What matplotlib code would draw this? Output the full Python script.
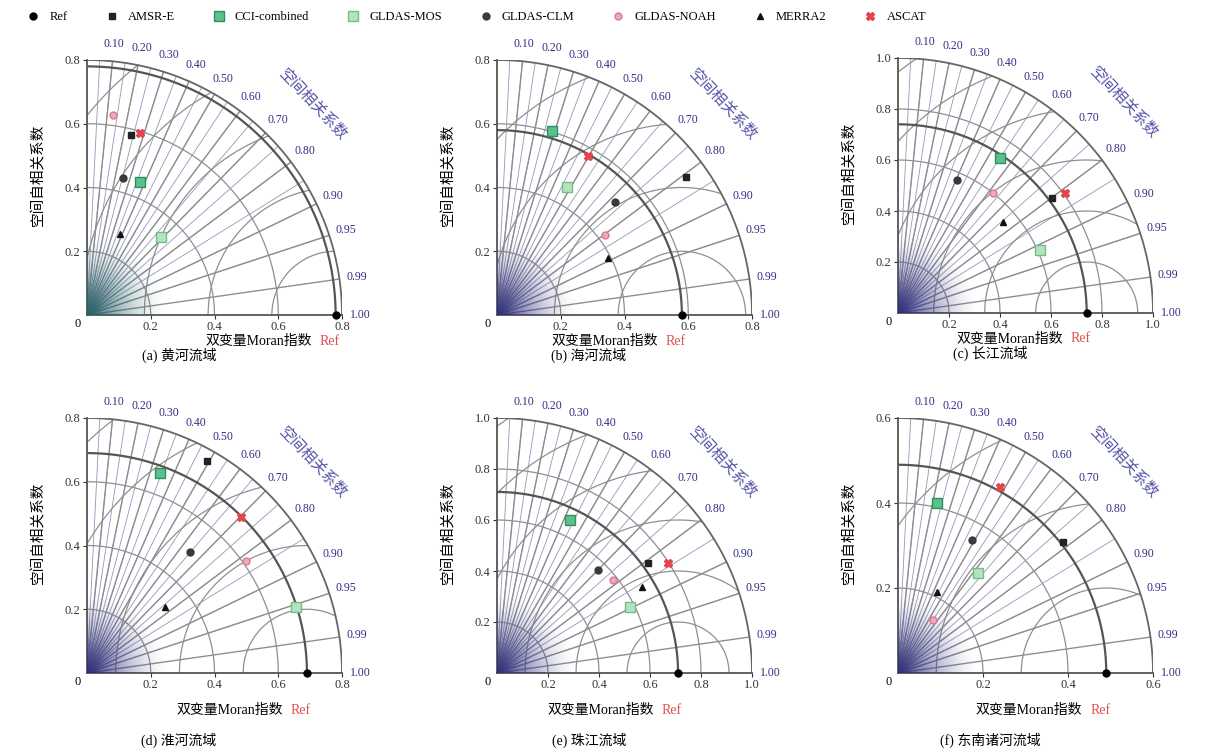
import numpy as np
import matplotlib
matplotlib.use('Agg')
import matplotlib.pyplot as plt

plt.rcParams['font.family'] = ['Liberation Serif', 'Noto Sans CJK SC']

# ---- data ----
basins = ['(a) 黄河流域', '(b) 海河流域', '(c) 长江流域',
          '(d) 淮河流域', '(e) 珠江流域', '(f) 东南诸河流域']
ref_std = [0.78, 0.58, 0.74, 0.69, 0.71, 0.49]
r_max = [0.8, 0.8, 1.0, 0.8, 1.0, 0.6]

products = ['AMSR-E', 'CCI-combined', 'GLDAS-MOS', 'GLDAS-CLM',
            'GLDAS-NOAH', 'MERRA2', 'ASCAT']
amsre_std = [0.581, 0.734, 0.754, 0.764, 0.732, 0.495]
amsre_cor = [0.236, 0.809, 0.801, 0.491, 0.809, 0.783]
cci_std = [0.451, 0.603, 0.729, 0.668, 0.665, 0.410]
cci_cor = [0.372, 0.285, 0.549, 0.341, 0.430, 0.224]
mos_std = [0.337, 0.456, 0.609, 0.688, 0.583, 0.301]
mos_cor = [0.689, 0.480, 0.914, 0.954, 0.896, 0.625]
clm_std = [0.445, 0.511, 0.571, 0.497, 0.566, 0.358]
clm_cor = [0.256, 0.722, 0.405, 0.648, 0.700, 0.486]
noah_std = [0.634, 0.420, 0.600, 0.612, 0.583, 0.149]
noah_cor = [0.131, 0.803, 0.622, 0.817, 0.780, 0.549]
merra_std = [0.275, 0.390, 0.545, 0.319, 0.661, 0.212]
merra_cor = [0.382, 0.890, 0.756, 0.764, 0.861, 0.434]
ascat_std = [0.595, 0.575, 0.806, 0.687, 0.797, 0.499]
ascat_cor = [0.282, 0.494, 0.813, 0.704, 0.842, 0.481]

corr_ticks = [0.1, 0.2, 0.3, 0.4, 0.5, 0.6, 0.7, 0.8, 0.9, 0.95, 0.99, 1.0]

all_std = [amsre_std, cci_std, mos_std, clm_std, noah_std, merra_std, ascat_std]
all_cor = [amsre_cor, cci_cor, mos_cor, clm_cor, noah_cor, merra_cor, ascat_cor]

# marker styles: (marker, face, edge, size)
styles = [('s', '#222222', '#222222', 5),
          ('s', '#5cbf8c', '#2f8f60', 7),
          ('s', '#b5e3c0', '#6fbf86', 7),
          ('o', '#3a3a3a', '#3a3a3a', 5),
          ('o', '#f0a8bb', '#d97a94', 5),
          ('^', '#111111', '#111111', 5),
          ('X', '#e0474c', '#e0474c', 6)]

W, H = 1210, 750
R = 255  # quarter-circle radius in pixels
origins = [(87, 315), (497, 315), (898, 313), (87, 673), (497, 673), (898, 673)]
shade_rgb = [(0.12, 0.38, 0.40), (0.16, 0.16, 0.50), (0.16, 0.16, 0.50),
             (0.16, 0.16, 0.50), (0.16, 0.16, 0.50), (0.16, 0.16, 0.50)]

fig = plt.figure(figsize=(12.1, 7.5), dpi=100)

grid_c = '#8f8f8f'
lab_c = '#2e2e86'


def draw_panel(ax, k):
    rm = r_max[k]
    ref = ref_std[k]
    ax.set_xlim(0, rm)
    ax.set_ylim(0, rm)
    for s in ['top', 'right']:
        ax.spines[s].set_visible(False)
    for s in ['left', 'bottom']:
        ax.spines[s].set_color('#555555')
        ax.spines[s].set_linewidth(1.3)

    # dark corner shading
    n = 150
    ext = 0.32 * rm
    gx, gy = np.meshgrid(np.linspace(0, ext, n), np.linspace(0, ext, n))
    d = np.sqrt(gx ** 2 + gy ** 2) / ext
    img = np.zeros((n, n, 4))
    img[..., 0], img[..., 1], img[..., 2] = shade_rgb[k]
    img[..., 3] = np.clip(1 - d, 0, 1) ** 1.6 * 0.95
    ax.imshow(img, extent=[0, ext, 0, ext], origin='lower',
              aspect='auto', zorder=3)

    t = np.linspace(0, np.pi / 2, 300)
    for r in np.arange(0.2, rm - 1e-6, 0.2):
        ax.plot(r * np.cos(t), r * np.sin(t), color=grid_c, lw=0.9, zorder=1)
    ax.plot(rm * np.cos(t), rm * np.sin(t), color='#666666', lw=1.3, zorder=2)
    ax.plot(ref * np.cos(t), ref * np.sin(t), color='#555555', lw=1.6, zorder=2)

    # correlation spokes
    for c in np.arange(0.05, 0.99, 0.05):
        a = np.arccos(c)
        ax.plot([0, rm * np.cos(a)], [0, rm * np.sin(a)],
                color='#9496bd', lw=0.6, zorder=1)
    for c in corr_ticks[:-1]:
        a = np.arccos(c)
        ax.plot([0, rm * np.cos(a)], [0, rm * np.sin(a)],
                color=grid_c, lw=1.0, zorder=1)
        ax.text(1.07 * rm * np.cos(a), 1.07 * rm * np.sin(a), '%.2f' % c,
                color=lab_c, fontsize=8.5, ha='center', va='center', clip_on=False)
    ax.text(1.03 * rm, 0, '1.00', color=lab_c, fontsize=8.5,
            ha='left', va='center', clip_on=False)

    # centred RMS arcs around the reference
    th = np.linspace(0, np.pi, 600)
    for rr in np.arange(0.2, 2 * rm, 0.2):
        x = ref + rr * np.cos(th)
        y = rr * np.sin(th)
        ok = (x >= 0) & (np.sqrt(x ** 2 + y ** 2) <= rm)
        x = np.where(ok, x, np.nan)
        y = np.where(ok, y, np.nan)
        ax.plot(x, y, color=grid_c, lw=0.9, zorder=1)

    ticks = np.arange(0.2, rm + 1e-6, 0.2)
    ax.set_xticks(ticks)
    ax.set_yticks(ticks)
    ax.set_xticklabels(['%.1f' % v for v in ticks])
    ax.set_yticklabels(['%.1f' % v for v in ticks])
    ax.tick_params(labelsize=9, length=3, width=0.8, colors='#333333', pad=1.5)
    ax.annotate('0', xy=(0, 0), xycoords='data', xytext=(-9, -9),
                textcoords='offset pixels', fontsize=9, ha='center', va='center')

    # models
    for i in range(len(products)):
        c = all_cor[i][k]
        s = all_std[i][k]
        m, fc, ec, ms = styles[i]
        ax.plot(s * c, s * np.sin(np.arccos(c)), m, color=fc, mec=ec,
                ms=ms, zorder=5, clip_on=False)
    ax.plot(ref, 0, 'o', color='black', ms=5, zorder=6, clip_on=False)

    # labels
    dy = -26 if k < 3 else -37
    ax.annotate('Ref', xy=(ref, 0), xycoords='data', xytext=(-6, dy),
                textcoords='offset pixels', color='#e05050', fontsize=10,
                ha='center', va='center')
    ax.annotate('双变量Moran指数', xy=(ref, 0), xycoords='data', xytext=(-24, dy),
                textcoords='offset pixels', fontsize=10, ha='right', va='center')
    ax.annotate('空间自相关系数', xy=(0, 0.55), xycoords='axes fraction',
                xytext=(-49, 0), textcoords='offset pixels', fontsize=10.5,
                rotation=90, ha='center', va='center')
    ang = np.radians(43)
    ax.text(1.21 * rm * np.cos(ang), 1.21 * rm * np.sin(ang), '空间相关系数',
            color='#5555a8', fontsize=11, rotation=-47, ha='center', va='center',
            clip_on=False)


for k in range(6):
    ox, oy = origins[k]
    ax = fig.add_axes([ox / W, (H - oy) / H, R / W, R / H])
    draw_panel(ax, k)
    sub_dy = 40 if k < 3 else 67
    fig.text((ox + 92) / W, (H - oy - sub_dy) / H, basins[k], fontsize=10,
             ha='center', va='center')

# legend
handles = [plt.Line2D([], [], ls='none', marker='o', color='black', ms=5)]
for i in range(len(products)):
    m, fc, ec, ms = styles[i]
    handles.append(plt.Line2D([], [], ls='none', marker=m, color=fc, mec=ec, ms=ms))
fig.legend(handles, ['Ref'] + products, loc='upper left', bbox_to_anchor=(0.008, 1.0),
           ncol=8, frameon=False, fontsize=9, columnspacing=2.5, handletextpad=0.3)

fig.savefig('out.png', dpi=100)
